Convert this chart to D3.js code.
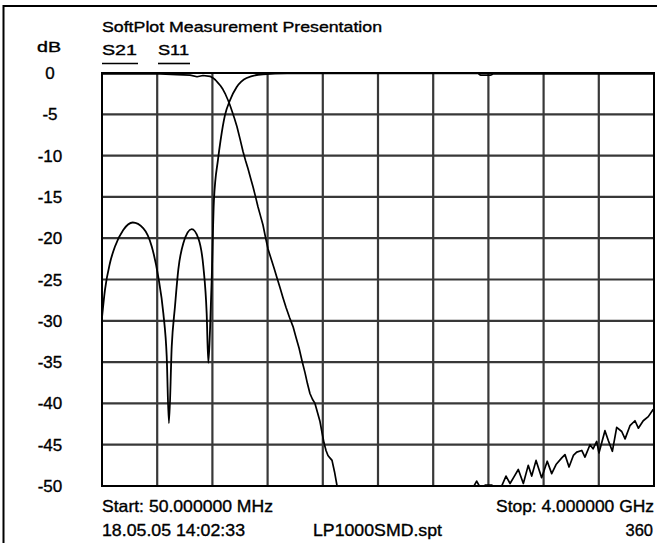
<!DOCTYPE html>
<html>
<head>
<meta charset="utf-8">
<script src="https://cdn.jsdelivr.net/npm/d3@7"></script>
<style>
  html, body { margin: 0; padding: 0; background: #fff; }
  svg { display: block; }
  text { font-family: "Liberation Sans", Arial, sans-serif; fill: #000; stroke: #000; stroke-width: 0.35px; }
</style>
</head>
<body>
<svg id="chart" width="657" height="543"></svg>
<script>
// ---------- data ----------
const title = "SoftPlot Measurement Presentation";
const yUnit = "dB";
const seriesNames = ["S21", "S11"];

const freqTicks = [50, 445, 840, 1235, 1630, 2025, 2420, 2815, 3210, 3605, 4000]; // MHz
const dbTicks = [0, -5, -10, -15, -20, -25, -30, -35, -40, -45, -50];
const dbTickLabels = ["0", "-5", "-10", "-15", "-20", "-25", "-30", "-35", "-40", "-45", "-50"];

// S21 (transmission), MHz / dB
const s21Freq = [50, 250, 465, 587, 680, 730, 773, 823, 844, 862, 880, 898, 916, 934, 952, 966, 980, 998, 1016, 1038, 1059, 1077, 1095, 1113, 1131, 1149, 1166, 1184, 1202, 1220, 1238, 1260, 1281, 1302, 1324, 1345, 1367, 1392, 1417, 1438, 1460, 1482, 1503, 1520, 1538, 1556, 1574, 1592, 1610, 1625, 1639, 1653, 1667, 1681, 1696, 1714, 1732, 1767, 2100, 2500, 2690,
  2712, 2731, 2750, 2770, 2791, 2841, 2870, 2910, 2941, 2970, 2998, 3029, 3065, 3100, 3125, 3156, 3196, 3236, 3268, 3299, 3340, 3363, 3392, 3423, 3447, 3483, 3506, 3542, 3564, 3590, 3606, 3649, 3673, 3702, 3733, 3769, 3793, 3828, 3864, 3888, 3923, 3959, 3995];
const s21Db = [-0.1, -0.1, -0.1, -0.2, -0.25, -0.45, -0.3, -0.4, -0.6, -0.85, -1.2, -1.55, -2.0, -2.6, -3.3, -3.9, -4.6, -5.5, -6.5, -8.0, -9.5, -10.6, -11.6, -12.7, -13.8, -15.0, -16.2, -17.3, -18.4, -19.9, -21.3, -22.5, -23.6, -24.8, -26, -27.2, -28.4, -29.6, -30.7, -32.0, -33.3, -34.9, -36.3, -37.6, -38.8, -39.5, -40, -41.1, -42.2, -43.6, -44.8, -45.7, -46.3, -46.6, -46.9, -48.3, -50, -53, -62, -60, -52,
  -50, -49.4, -50, -50.6, -49.9, -49.9, -50.8, -50, -48.8, -49.7, -48.9, -48.0, -49.7, -47.5, -48.8, -46.9, -49.0, -47.0, -48.5, -47.4, -46.6, -46.2, -47.7, -46.3, -45.9, -45.7, -46.5, -45.0, -45.5, -44.6, -46.0, -43.3, -44.5, -45.8, -42.9, -43.4, -44.3, -42.7, -42.1, -43.0, -42.1, -41.6, -40.7];

// S11 (reflection), MHz / dB
const s11Freq = [50, 71, 107, 143, 202, 270, 346, 406, 453, 489, 513, 529, 549, 572, 596, 632, 692, 739, 775, 799, 811, 823, 835, 851, 880, 899, 930, 966, 1014, 1085, 1202, 1374, 2000, 2740, 2760, 2830, 2850, 3400, 4000];
const s11Db = [-29.6, -26.3, -23, -21, -19, -18.1, -18.8, -21, -24.7, -29.1, -34.3, -42.4, -33.1, -28.3, -23.8, -20.6, -18.9, -20, -23.4, -29.1, -35.1, -31.1, -25, -15.4, -10.5, -8.1, -5.1, -3.3, -1.7, -0.6, -0.15, -0.05, -0.05, -0.05, -0.25, -0.25, -0.1, -0.1, -0.1];

const footer = {
  start: "Start: 50.000000 MHz",
  stop: "Stop: 4.000000 GHz",
  date: "18.05.05 14:02:33",
  file: "LP1000SMD.spt",
  points: "360"
};

// ---------- layout ----------
const svg = d3.select("#chart");
const plot = { left: 102, right: 654, top: 73, bottom: 486 };

const x = d3.scaleLinear().domain([50, 4000]).range([plot.left, plot.right]);
const y = d3.scaleLinear().domain([-50, 0]).range([plot.bottom, plot.top]);

// outer frame
svg.append("line").attr("x1", 3).attr("x2", 657).attr("y1", 6).attr("y2", 6)
  .attr("stroke", "#000").attr("stroke-width", 2);
svg.append("line").attr("x1", 3.5).attr("x2", 3.5).attr("y1", 5).attr("y2", 543)
  .attr("stroke", "#000").attr("stroke-width", 2);

// grid
const grid = svg.append("g");
grid.selectAll("line.v").data(freqTicks.slice(1, -1)).join("line")
  .attr("class", "v")
  .attr("x1", d => x(d)).attr("x2", d => x(d))
  .attr("y1", plot.top).attr("y2", plot.bottom)
  .attr("stroke", "#383838").attr("stroke-width", 2.2);
grid.selectAll("line.h").data(dbTicks.slice(1, -1)).join("line")
  .attr("class", "h")
  .attr("y1", d => y(d)).attr("y2", d => y(d))
  .attr("x1", plot.left).attr("x2", plot.right)
  .attr("stroke", "#383838").attr("stroke-width", 2.2);

// border
svg.append("rect")
  .attr("x", plot.left).attr("y", plot.top)
  .attr("width", plot.right - plot.left).attr("height", plot.bottom - plot.top)
  .attr("fill", "none").attr("stroke", "#000").attr("stroke-width", 2);

// y labels
svg.append("g").selectAll("text").data(dbTicks).join("text")
  .attr("x", 50).attr("y", d => y(d) + 6)
  .attr("text-anchor", "middle")
  .attr("font-size", 17)
  .text((d, i) => dbTickLabels[i]);

// clip
svg.append("clipPath").attr("id", "clip").append("rect")
  .attr("x", plot.left).attr("y", plot.top - 3)
  .attr("width", plot.right - plot.left).attr("height", plot.bottom - plot.top + 3);

const curves = svg.append("g").attr("clip-path", "url(#clip)");
const lineLin = d3.line().x(d => x(d[0])).y(d => y(d[1]));
const lineSmooth = d3.line().x(d => x(d[0])).y(d => y(d[1])).curve(d3.curveMonotoneX);
curves.append("path")
  .attr("d", lineLin(s21Freq.map((f, i) => [f, s21Db[i]])))
  .attr("fill", "none").attr("stroke", "#000").attr("stroke-width", 1.7).attr("stroke-linejoin", "round");
curves.append("path")
  .attr("d", lineSmooth(s11Freq.map((f, i) => [f, s11Db[i]])))
  .attr("fill", "none").attr("stroke", "#000").attr("stroke-width", 1.8).attr("stroke-linejoin", "round");

// header texts
svg.append("text").attr("x", 102).attr("y", 32).attr("font-size", 15)
  .attr("textLength", 280).attr("lengthAdjust", "spacingAndGlyphs").text(title);
svg.append("text").attr("x", 37).attr("y", 52).attr("font-size", 14)
  .attr("textLength", 24).attr("lengthAdjust", "spacingAndGlyphs").text(yUnit);

const legendX = [102, 158];
const legendW = [35, 31];
seriesNames.forEach((name, i) => {
  svg.append("text").attr("x", legendX[i]).attr("y", 55).attr("font-size", 14)
    .attr("textLength", legendW[i]).attr("lengthAdjust", "spacingAndGlyphs").text(name);
  svg.append("line").attr("x1", legendX[i]).attr("x2", legendX[i] + legendW[i] + 1)
    .attr("y1", 63.5).attr("y2", 63.5).attr("stroke", "#000").attr("stroke-width", 1.6);
});

// footer texts
const ft = (t, xx, yy, w, anchor) => svg.append("text").attr("x", xx).attr("y", yy)
  .attr("font-size", 16.5).attr("text-anchor", anchor || "start")
  .attr("textLength", w).attr("lengthAdjust", "spacingAndGlyphs").text(t);
ft(footer.start, 102, 512, 171);
ft(footer.stop, 654, 512, 158, "end");
ft(footer.date, 102, 536, 143);
ft(footer.file, 313, 536, 129);
svg.append("text").attr("x", 653).attr("y", 536).attr("font-size", 16.5)
  .attr("text-anchor", "end").text(footer.points);
</script>
</body>
</html>
